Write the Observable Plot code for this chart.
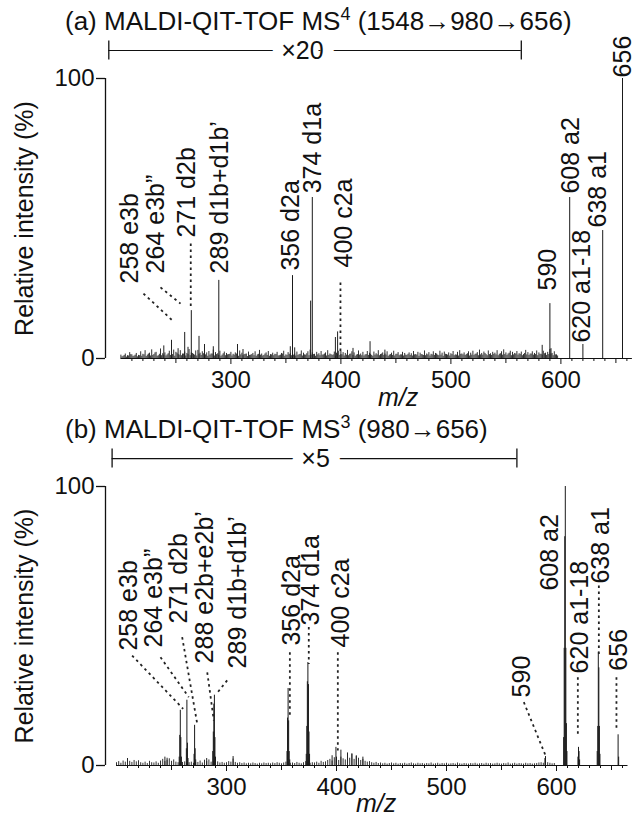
<!DOCTYPE html>
<html>
<head>
<meta charset="utf-8">
<script src="https://cdn.jsdelivr.net/npm/d3@7"></script>
<script src="https://cdn.jsdelivr.net/npm/@observablehq/plot@0.6"></script>
<style>
  html,body{margin:0;padding:0;background:#fff;}
  #fig{position:relative;width:634px;height:827px;overflow:hidden;font-family:"Liberation Sans",Arial,sans-serif;color:#111;}
  .pane{position:absolute;left:0;}
  .title{position:absolute;left:65px;font-size:26px;line-height:30px;white-space:nowrap;color:#111;}
  .title .sup{font-size:18px;position:relative;top:-10px;}
</style>
</head>
<body>
<div id="fig"></div>
<script>
// ---------------- shared axis values ----------------
const majorTicks = [300, 400, 500, 600];
const midTicks = [250, 350, 450, 550, 650];
const minorTicks = [210,220,230,240,260,270,280,290,310,320,330,340,360,370,380,390,410,420,430,440,460,470,480,490,510,520,530,540,560,570,580,590,610,620,630,640,660];
const yTicks = [0, 100];
const axisStart = 200, axisEnd = 665;

// ---------------- panel (a): MS4 ----------------
const titleA = "(a) MALDI-QIT-TOF MS|4|(1548\u2192980\u2192656)";
const peaksA_mz = [258, 264, 271, 289, 356, 372.5, 374, 590, 608, 620, 638, 656];
const peaksA_h  = [9.3, 17.1, 7.9, 27.9, 29.6, 20.5, 57.5, 19.6, 57.5, 5, 45.7, 100];
const minorA_mz = [239, 246, 252, 261, 276, 284, 306, 311, 354, 358, 395, 397, 400, 411, 426.5, 440, 583, 591];
const minorA_h  = [4.5, 6.5, 3.5, 4, 5, 4.2, 5, 3.2, 4.2, 3.8, 7.5, 9.5, 2.5, 3.6, 6, 3, 4.7, 3.5];
// baseline noise read at even m/z (200..596) and odd m/z (201..597)
const noiseA_start = 200, noiseA2_start = 201, noiseA_step = 2;
const noiseA = [
 1.2,0.8,1.6,1.0,2.1,1.3,0.9,1.8,1.1,2.4,
 1.5,2.8,1.2,1.9,3.1,1.4,2.2,1.0,3.4,1.7,
 2.0,1.3,2.6,1.1,3.0,2.2,1.4,2.8,1.6,2.3,
 1.8,3.2,2.0,1.5,2.7,2.9,1.9,2.4,1.3,2.0,
 2.5,1.6,3.0,2.1,1.7,2.6,1.2,2.3,1.8,1.4,
 2.2,1.5,2.0,1.1,2.7,1.9,1.4,1.6,2.3,1.2,
 1.8,2.4,1.3,2.9,1.6,1.1,2.0,2.5,1.4,1.9,
 1.5,2.2,1.0,1.8,2.6,1.3,2.1,1.7,2.8,1.6,
 2.3,1.4,2.7,1.9,1.2,2.4,3.0,2.0,1.5,2.2,
 1.7,2.5,1.3,2.0,2.8,1.6,1.1,2.3,1.9,2.6,
 1.4,2.1,1.8,2.9,1.5,2.4,2.0,1.2,2.7,1.6,
 2.2,1.3,2.5,1.9,1.1,2.3,1.7,2.8,1.4,2.0,
 1.6,2.4,1.2,1.9,2.6,1.5,2.1,1.3,2.2,1.8,
 1.1,2.0,1.7,2.5,1.4,2.2,1.9,1.3,2.7,1.6,
 2.1,1.5,2.4,1.8,1.2,2.6,1.9,2.3,1.4,2.0,
 1.7,2.5,1.3,2.2,2.8,1.6,2.0,1.4,2.4,1.9,
 2.6,1.5,2.1,3.0,1.8,2.3,1.4,2.7,1.7,2.2,
 1.9,2.8,1.5,2.4,3.1,2.0,1.6,2.6,2.2,1.8,
 2.5,1.7,2.3,1.4,2.9,2.1,1.6,2.4,1.8,2.7,
 2.0,1.5,2.6,1.9,2.2,3.2,1.8,2.4,1.3
];
const noiseA2 = [
 0.6,1.1,0.5,0.9,1.4,0.7,1.2,0.6,1.0,0.8,
 1.3,0.7,1.6,0.9,1.1,2.0,0.8,1.5,1.0,1.2,
 0.9,1.7,1.1,1.4,0.8,1.9,1.2,1.0,1.6,0.9,
 1.4,1.0,1.8,1.2,0.9,1.5,1.1,1.7,1.3,0.8,
 1.2,1.6,0.9,1.4,1.1,0.8,1.7,1.0,1.3,1.5,
 0.9,1.2,1.6,0.8,1.3,1.0,1.5,0.7,1.1,1.4,
 1.0,0.8,1.5,1.2,0.9,1.6,1.1,0.8,1.3,1.0,
 1.4,0.9,1.2,1.6,0.8,1.1,1.4,1.0,1.2,0.9,
 1.1,1.5,0.9,1.3,1.7,1.0,1.2,1.4,0.8,1.3,
 1.0,1.2,1.6,0.9,1.1,1.4,1.3,0.8,1.5,1.1,
 1.3,0.9,1.2,1.0,1.6,1.1,0.8,1.4,1.2,1.0,
 0.9,1.4,1.1,1.5,0.8,1.2,1.3,1.0,1.6,1.1,
 1.2,0.8,1.4,1.1,0.9,1.5,1.0,1.3,0.9,1.2,
 1.5,1.1,0.9,1.3,1.2,0.8,1.4,1.1,1.0,1.3,
 0.9,1.3,1.1,1.6,1.0,1.2,0.8,1.5,1.2,0.9,
 1.4,1.0,1.2,0.9,1.5,1.3,1.1,1.7,0.9,1.2,
 1.1,1.6,1.0,1.3,1.2,1.8,1.0,1.4,1.1,1.5,
 1.3,1.0,1.7,1.2,1.4,1.1,1.9,1.0,1.3,1.6,
 1.2,1.5,1.0,1.8,1.3,1.1,1.6,1.2,1.4,1.0,
 1.5,1.2,1.7,1.1,1.4,1.6,1.0,1.3,0.9
];
const labelsA_text = ["258 e3b", "264 e3b\u201D", "271 d2b", "289 d1b+d1b\u2019", "356 d2a", "374 d1a", "400 c2a", "590", "608 a2", "620 a1-18", "638 a1", "656"];
const labelsA_mz   = [208.7, 231.5, 260.5, 290.5, 354.2, 375, 402.4, 588.7, 609.6, 619.6, 633.3, 656];
const labelsA_y    = [26.8, 30.4, 43.2, 30.4, 31.4, 59, 32.5, 24.3, 58.9, 5.7, 46.8, 100.4];
const leadersA = [
  [220.5, 23.2, 246.8, 13.6],
  [236.0, 25.4, 254.2, 19.6],
  [263.5, 41.1, 263.5, 17.9],
  [399.6, 27.1, 399.6, 1.8]
];
const bracketA = {from: 189, to: 564, text: "\u00D720", at: 365, y: 110};
const xTitleA = 452;

// ---------------- panel (b): MS3 ----------------
const titleB = "(b) MALDI-QIT-TOF MS|3|(980\u2192656)";
const peaksB_mz = [257,257.5,258,258.5,259, 263.5,264,264.5,265, 270.5,271,271.5,272,
  287.5,288,288.5,289,289.5,290, 355,355.5,356,356.5,357,357.5,
  372.5,373,373.5,374,374.5,375,375.5, 399.5,400, 589.5,590,
  606.5,607,607.5,608,608.5,609,609.5, 619.5,620,620.5,621,
  637,637.5,638,638.5,639,639.5, 656,656.5];
const peaksB_h = [3,10.8,19.8,10,3, 6,23.4,8,2.5, 4,14.4,6,2,
  5,12,22,25.2,10,3, 5,17,27.6,16,5,2,
  4,14,30,36.9,29,12,4, 6.5,3, 2.5,3.2,
  10,42,82,100,42,15,5, 3,6.5,5,2,
  5,14,40.6,35,14,4, 11,3];
const minorB_mz = [210, 244, 246, 282, 306, 396, 404, 410, 414, 418, 424];
const minorB_h  = [2.5, 3, 2.6, 2.5, 3.2, 3.5, 5.5, 4.5, 4.2, 3.5, 3];
const noiseB_start = 200, noiseB_step = 2;
const noiseB = [
 1.0,1.4,0.8,1.6,1.2,0.9,1.5,1.1,1.8,1.3,
 1.7,1.0,0.8,1.2,0.7,1.5,1.0,0.9,1.3,0.8,
 1.6,2.2,1.4,1.9,2.4,1.5,2.0,1.2,1.0,0.8,
 1.1,1.3,0.9,1.0,1.2,0.8,1.0,1.1,1.6,0.9,
 1.9,1.4,2.0,1.2,1.5,1.0,1.3,0.9,1.1,0.8,
 1.0,1.4,1.2,2.3,1.1,0.8,1.0,0.7,0.9,0.6,
 0.8,0.6,0.9,0.7,0.5,0.8,0.6,0.9,0.7,0.8,
 0.6,0.9,0.7,1.0,0.8,0.6,0.9,1.2,1.0,0.8,
 0.9,0.7,1.1,0.8,0.6,1.0,1.4,1.1,0.8,1.0,
 0.9,1.2,0.8,1.5,1.1,1.3,1.8,2.2,1.6,2.8,
 2.2,1.8,3.0,2.4,2.0,3.6,2.6,4.0,2.2,3.2,
 2.6,1.8,2.2,1.5,1.2,1.4,1.0,0.8,1.1,0.7,
 0.9,0.6,0.8,0.5,0.7,0.9,0.6,0.8,0.5,0.7,
 0.6,0.8,0.5,0.7,0.9,0.6,0.5,0.8,0.6,0.7,
 0.5,0.7,0.6,0.9,0.5,0.6,0.8,0.5,0.7,0.6,
 0.8,0.5,0.6,0.7,0.5,0.9,0.6,0.5,0.7,0.6,
 0.5,0.7,0.6,0.8,0.5,0.6,0.7,0.5,0.8,0.6,
 0.7,0.5,0.6,0.8,0.6,0.5,0.7,0.6,0.9,0.5,
 0.6,0.8,0.5,0.7,0.6,0.5,0.8,0.6,0.7,0.5,
 0.6,0.7,0.9,1.0,0.8,1.2,1.0,0.8,0.6,0.7
];
const labelsB_text = ["258 e3b", "264 e3b\u201D", "271 d2b", "288 e2b+e2b\u2019", "289 d1b+d1b\u2019", "356 d2a", "374 d1a", "400 c2a", "590", "608 a2", "620 a1-18", "638 a1", "656"];
const labelsB_mz   = [211.8, 234.5, 256.4, 280.9, 310.9, 359.1, 376.4, 404.5, 569, 594.5, 621.8, 640, 656.4];
const labelsB_y    = [41.2, 42.3, 50.9, 36.6, 34.8, 43, 50.2, 42.3, 24.4, 62.7, 33, 65.2, 34];
const leadersB = [
  [214.2, 39.4, 260.6, 20.3],
  [240.0, 38.8, 265.7, 24.5],
  [259.7, 46.0, 273.4, 14.9],
  [282.5, 33.4, 288.5, 16.1],
  [300.6, 30.5, 290.9, 25.7],
  [357.6, 40.6, 357.6, 17.3],
  [374.8, 49.6, 374.8, 36.4],
  [401.2, 40.6, 401.2, 5.4],
  [570.3, 22.7, 590.0, 3.6],
  [619.4, 31.6, 619.4, 10.2],
  [638.5, 64.5, 638.5, 38.8],
  [654.5, 31.6, 654.5, 13.1]
];
const bracketB = {from: 196, to: 564, text: "\u00D75", at: 381, y: 110};
const xTitleB = 436;

// ---------------- layout ----------------
const FONT = "'Liberation Sans', Arial, sans-serif";
const panels = [
  {title: titleA, top: 0, height: 410, mt: 78, mb: 52, d0: 186, titleTop: 6,
   peaksMz: peaksA_mz, peaksH: peaksA_h, minorMz: minorA_mz, minorH: minorA_h,
   noiseSets: [[noiseA, noiseA_start], [noiseA2, noiseA2_start]], noiseStep: noiseA_step,
   labText: labelsA_text, labMz: labelsA_mz, labY: labelsA_y, leaders: leadersA, bracket: bracketA,
   xTitle: xTitleA, xlabDy: 47},
  {title: titleB, top: 410, height: 417, mt: 76, mb: 62, d0: 190, titleTop: 4,
   peaksMz: peaksB_mz, peaksH: peaksB_h, minorMz: minorB_mz, minorH: minorB_h,
   noiseSets: [[noiseB, noiseB_start]], noiseStep: noiseB_step,
   labText: labelsB_text, labMz: labelsB_mz, labY: labelsB_y, leaders: leadersB, bracket: bracketB,
   xTitle: xTitleB, xlabDy: 46}
];

const fig = document.getElementById("fig");

for (const p of panels) {
  const peaks = p.peaksMz.map((mz, i) => ({mz, h: p.peaksH[i]}));
  const minors = p.minorMz.map((mz, i) => ({mz, h: p.minorH[i]}));
  const noise = p.noiseSets.flatMap(([arr, start]) => arr.map((h, i) => ({mz: start + i * p.noiseStep, h})));
  const labels = p.labText.map((t, i) => ({t, x: p.labMz[i], y: p.labY[i]}));
  const leaders = p.leaders.map(([x1, y1, x2, y2]) => ({x1, y1, x2, y2}));
  const b = p.bracket;

  const chart = Plot.plot({
    width: 634,
    height: p.height,
    marginLeft: 105,
    marginRight: 1,
    marginTop: p.mt,
    marginBottom: p.mb,
    x: {domain: [p.d0, p.d0 + 480]},
    y: {domain: [0, 100]},
    style: {fontFamily: FONT, fontSize: "24px", color: "#111", background: "transparent", overflow: "visible"},
    marks: [
      // noise & peaks
      Plot.ruleX(noise, {x: "mz", y1: () => 0, y2: "h", stroke: "#333", strokeWidth: 1}),
      Plot.ruleX(minors, {x: "mz", y1: () => 0, y2: "h", stroke: "#222", strokeWidth: 1}),
      Plot.ruleX(peaks, {x: "mz", y1: () => 0, y2: "h", stroke: "#1a1a1a", strokeWidth: 1}),
      // baseline / x axis line
      Plot.ruleY([{y: 0, x1: axisStart, x2: axisEnd}], {y: "y", x1: "x1", x2: "x2", stroke: "#111", strokeWidth: 1.2}),
      // y axis line
      Plot.ruleX([{x: p.d0}], {x: "x", y1: () => 0, y2: () => 100, stroke: "#111", strokeWidth: 1.3}),
      Plot.axisY({ticks: yTicks, tickSize: 9, tickPadding: 2, fontSize: 24, label: null, strokeWidth: 1.3}),
      Plot.axisX({ticks: majorTicks, tickSize: 6, tickPadding: 6, fontSize: 24, label: null}),
      Plot.axisX({ticks: midTicks, tickSize: 5, tickFormat: () => "", label: null}),
      Plot.axisX({ticks: minorTicks, tickSize: 3, tickFormat: () => "", label: null}),
      // leaders
      Plot.link(leaders, {x1: "x1", y1: "y1", x2: "x2", y2: "y2", stroke: "#222", strokeWidth: 1.8, strokeDasharray: "2.5,3.5"}),
      // peak labels
      Plot.text(labels, {x: "x", y: "y", text: "t", rotate: -90, textAnchor: "start", lineAnchor: "middle", fontSize: 25, fill: "#111"}),
      // bracket of magnified region
      Plot.ruleY([b], {y: "y", x1: "from", x2: "to", stroke: "#111", strokeWidth: 1.2}),
      Plot.ruleX([b.from, b.to], {x: d => d, y1: () => b.y - 3.4, y2: () => b.y + 3.4, stroke: "#111", strokeWidth: 1.3}),
      Plot.text([b], {x: "at", y: "y", text: "text", fontSize: 25, fill: "#111", stroke: "white", strokeWidth: 22, paintOrder: "stroke"}),
      // axis titles
      Plot.text(["Relative intensity (%)"], {frameAnchor: "left", dx: -81, rotate: -90, textAnchor: "middle", fontSize: 25, fill: "#111"}),
      Plot.text([{x: p.xTitle}], {x: "x", frameAnchor: "bottom", dy: p.xlabDy, text: () => "m/z", textAnchor: "middle", fontSize: 25, fontStyle: "italic", fill: "#111"})
    ]
  });

  const pane = document.createElement("div");
  pane.className = "pane";
  pane.style.top = p.top + "px";
  pane.appendChild(chart);
  fig.appendChild(pane);

  const [pre, sup, post] = p.title.split("|");
  const t = document.createElement("div");
  t.className = "title";
  t.style.top = (p.top + p.titleTop) + "px";
  t.innerHTML = `${pre}<span class="sup">${sup}</span> ${post}`;
  fig.appendChild(t);
}
</script>
</body>
</html>
